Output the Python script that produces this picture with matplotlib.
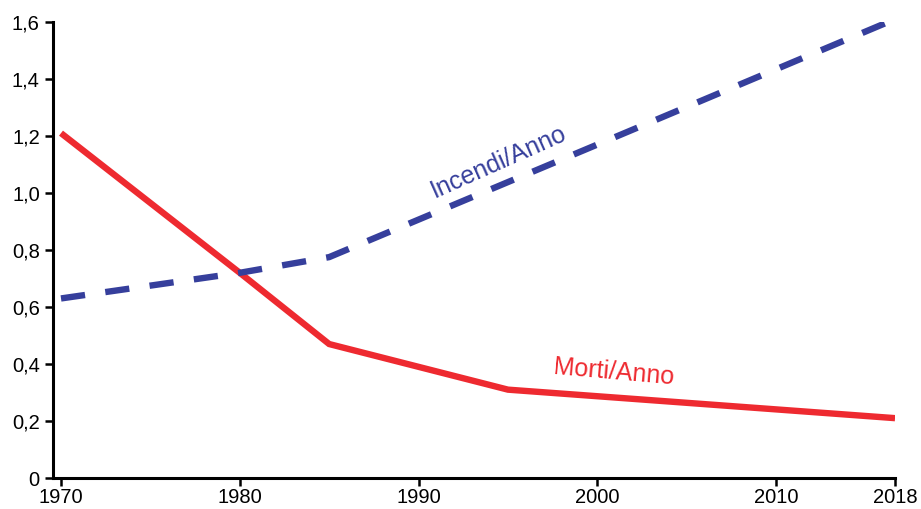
import numpy as np
import matplotlib
matplotlib.use("Agg")
import matplotlib.pyplot as plt

plt.rcParams["font.family"] = ["Liberation Sans", "DejaVu Sans"]

# Data
morti_anni = [1970, 1980, 1985, 1995, 2018]
morti_valori = [1.21, 0.72, 0.47, 0.31, 0.21]

incendi_anni = [1970, 1980, 1985, 2000, 2018]
incendi_valori = [0.63, 0.72, 0.775, 1.17, 1.61]

x_ticks = [1970, 1980, 1990, 2000, 2010, 2018]
y_ticks = [0, 0.2, 0.4, 0.6, 0.8, 1.0, 1.2, 1.4, 1.6]

RED = "#ee2a30"
BLUE = "#363f9c"

# last segment (2010-2018) is drawn compressed in the original
src = [1900, 2010, 2018, 2100]
dst = [1900, 2010, 2016.65, 2098.65]


def fwd(v):
    return np.interp(v, src, dst)


def inv(v):
    return np.interp(v, dst, src)


fig = plt.figure(figsize=(9.21, 5.09), dpi=100)
ax = fig.add_axes([0.0575, 0.0609, 0.9143, 0.8959])
ax.set_xscale("function", functions=(fwd, inv))

ax.plot(morti_anni, morti_valori, color=RED, lw=4.6, solid_capstyle="butt",
        solid_joinstyle="miter")
ax.plot(incendi_anni, incendi_valori, color=BLUE, lw=4.6,
        dashes=(3.8, 3.2), dash_capstyle="butt")

ax.text(2000.9, 0.37, "Morti/Anno", color=RED, fontsize=18,
        fontstyle="normal", rotation=-5, ha="center", va="center")
ax.text(1994.5, 1.11, "Incendi/Anno", color=BLUE, fontsize=18,
        fontstyle="normal", rotation=24, ha="center", va="center")

ax.set_xlim(1969.55, 2018)
ax.set_ylim(0, 1.6)

ax.set_xticks(x_ticks)
ax.set_xticklabels([str(t) for t in x_ticks])
ax.set_yticks(y_ticks)
ax.set_yticklabels(["0" if t == 0 else f"{t:.1f}".replace(".", ",") for t in y_ticks])

for side in ["top", "right"]:
    ax.spines[side].set_visible(False)
for side in ["left", "bottom"]:
    ax.spines[side].set_linewidth(2.2)

ax.tick_params(axis="both", direction="out", length=5.5, width=1.8,
               labelsize=14.5, colors="black", pad=2)
ax.tick_params(axis="y", pad=4)

fig.savefig("out.png", dpi=100)
